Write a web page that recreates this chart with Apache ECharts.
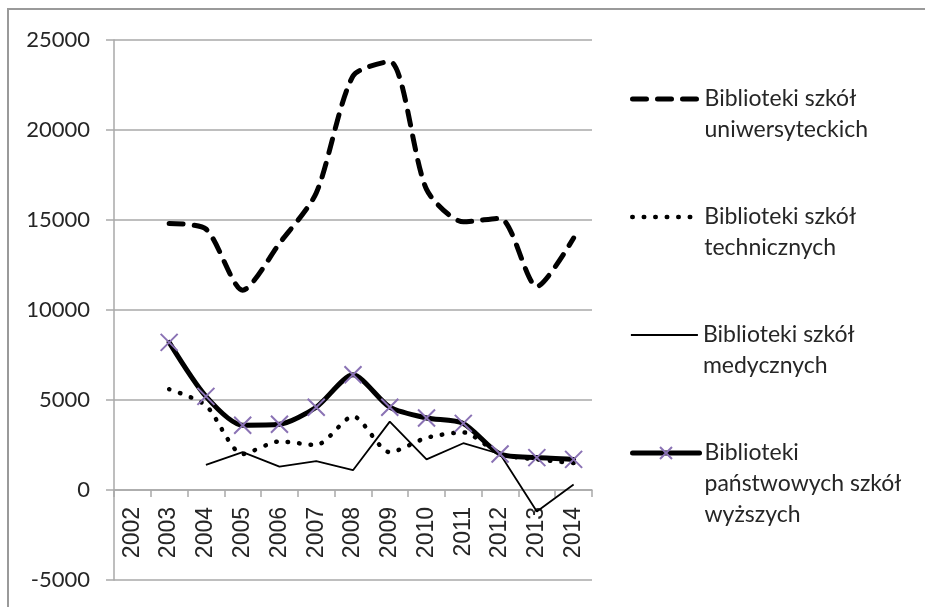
<!DOCTYPE html>
<html>
<head>
<meta charset="utf-8">
<script src="https://cdn.jsdelivr.net/npm/echarts@6/dist/echarts.min.js"></script>
<style>
  html, body { margin: 0; padding: 0; background: #fff; }
  #chart { width: 925px; height: 607px; }
</style>
</head>
<body>
<div id="chart"></div>
<script>
// Years on the category axis
const years = ['2002','2003','2004','2005','2006','2007','2008','2009','2010','2011','2012','2013','2014'];

// Series values (null = no data for that year)
const uniwersyteckie = [null, 14800, 14500, 11100, 13700, 16500, 23000, 23800, 16700, 14900, 15100, 11300, 14000];
const techniczne     = [null, 5600, 4700, 2000, 2700, 2500, 4100, 2100, 2900, 3200, 2000, 1700, 1500];
const medyczne       = [null, null, 1400, 2100, 1300, 1600, 1100, 3800, 1700, 2600, 2000, -1200, 300];
const panstwowe      = [null, 8200, 5200, 3600, 3650, 4600, 6400, 4600, 4000, 3700, 2000, 1800, 1700];

// Series names (two or three lines as in the legend)
const names = [
  'Biblioteki szkół\nuniwersyteckich',
  'Biblioteki szkół\ntechnicznych',
  'Biblioteki szkół\nmedycznych',
  'Biblioteki\npaństwowych szkół\nwyższych'
];

// Value axis range
const yMin = -5000, yMax = 25000, yStep = 5000;

const W = 925, H = 607;
const GRID_BOX = { left: 114, right: 333, top: 40, bottom: 27 };
const GRID = '#a9a9a9';
const TEXT = '#262626';
const PURPLE = '#8a72b4';
const LINE_H = 31;
const SMOOTH = 0.25;
const X_PATH = 'path://M0,0L10,10M10,0L0,10';

// the category axis sits on the zero line of the value axis
const plotH = H - GRID_BOX.top - GRID_BOX.bottom;
const zeroOffset = -((0 - yMin) / (yMax - yMin)) * plotH;

const chart = echarts.init(document.getElementById('chart'), null, { renderer: 'canvas' });

const styles = [
  { width: 5, type: [14, 11], cap: 'round' },
  { width: 4.5, type: [0.5, 11], cap: 'round' },
  { width: 1.8, type: 'solid', cap: 'butt' },
  { width: 5, type: 'solid', cap: 'round' }
];
const iconCenters = [99, 217, 335, 453];

function legendFor(i) {
  const lines = names[i].split('\n').length;
  const lead = ' \n'.repeat(lines - 1);
  const showMark = i === 3;
  return {
    data: [names[i]],
    orient: 'vertical',
    left: 630,
    top: iconCenters[i] - (2 * lines - 1) * LINE_H / 2,
    padding: 0,
    itemWidth: 67,
    itemHeight: 15,
    selectedMode: false,
    formatter: name => lead + name,
    textStyle: {
      fontFamily: 'Lato',
      fontSize: 23,
      color: TEXT,
      lineHeight: LINE_H
    },
    lineStyle: { width: styles[i].width },
    itemStyle: showMark
      ? { borderWidth: 2 }
      : { color: 'rgba(0,0,0,0)', borderWidth: 0, borderColor: 'rgba(0,0,0,0)' }
  };
}

const option = {
  animation: false,
  backgroundColor: '#fff',
  graphic: [{
    type: 'rect',
    shape: { x: 8, y: 9, width: 1200, height: 1200 },
    style: { fill: 'none', stroke: '#9a9a9a', lineWidth: 2 },
    silent: true
  }],
  legend: [legendFor(0), legendFor(1), legendFor(2), legendFor(3)],
  grid: Object.assign({ containLabel: false, outerBoundsMode: 'none' }, GRID_BOX),
  xAxis: {
    type: 'category',
    data: years,
    boundaryGap: true,
    offset: zeroOffset,
    axisLine: { onZero: false, lineStyle: { color: GRID, width: 1.5 } },
    axisTick: { show: true, length: 7, interval: 0, lineStyle: { color: GRID, width: 1.5 } },
    axisLabel: {
      interval: 0, rotate: 90, margin: 17,
      fontFamily: 'Liberation Sans', fontSize: 23, color: TEXT
    },
    splitLine: { show: false }
  },
  yAxis: {
    type: 'value',
    min: yMin, max: yMax, interval: yStep,
    axisLine: { show: true, lineStyle: { color: GRID, width: 1.5 } },
    axisTick: { show: true, length: 8, lineStyle: { color: GRID, width: 1.5 } },
    axisLabel: {
      margin: 24, fontFamily: 'Lato', fontSize: 22, color: TEXT,
      formatter: v => String(v)
    },
    splitLine: { show: true, lineStyle: { color: GRID, width: 1.5 } }
  },
  series: [
    {
      name: names[0], type: 'line', data: uniwersyteckie,
      smooth: SMOOTH, symbol: 'none', connectNulls: false,
      lineStyle: { color: '#000', width: styles[0].width, type: styles[0].type, cap: styles[0].cap, join: 'round' },
      itemStyle: { color: '#000' }, z: 3
    },
    {
      name: names[1], type: 'line', data: techniczne,
      smooth: SMOOTH, symbol: 'none',
      lineStyle: { color: '#000', width: styles[1].width, type: styles[1].type, cap: styles[1].cap },
      itemStyle: { color: '#000' }, z: 3
    },
    {
      name: names[2], type: 'line', data: medyczne,
      smooth: false, symbol: 'none',
      lineStyle: { color: '#000', width: styles[2].width, type: 'solid' },
      itemStyle: { color: '#000' }, z: 3
    },
    {
      name: names[3], type: 'line', data: panstwowe,
      smooth: SMOOTH, symbol: X_PATH, symbolSize: 17, showSymbol: true,
      lineStyle: { color: '#000', width: styles[3].width, type: 'solid', cap: 'round', join: 'round' },
      itemStyle: { color: 'rgba(0,0,0,0)', borderColor: PURPLE, borderWidth: 2 },
      z: 4
    }
  ]
};

chart.setOption(option);
</script>
</body>
</html>
